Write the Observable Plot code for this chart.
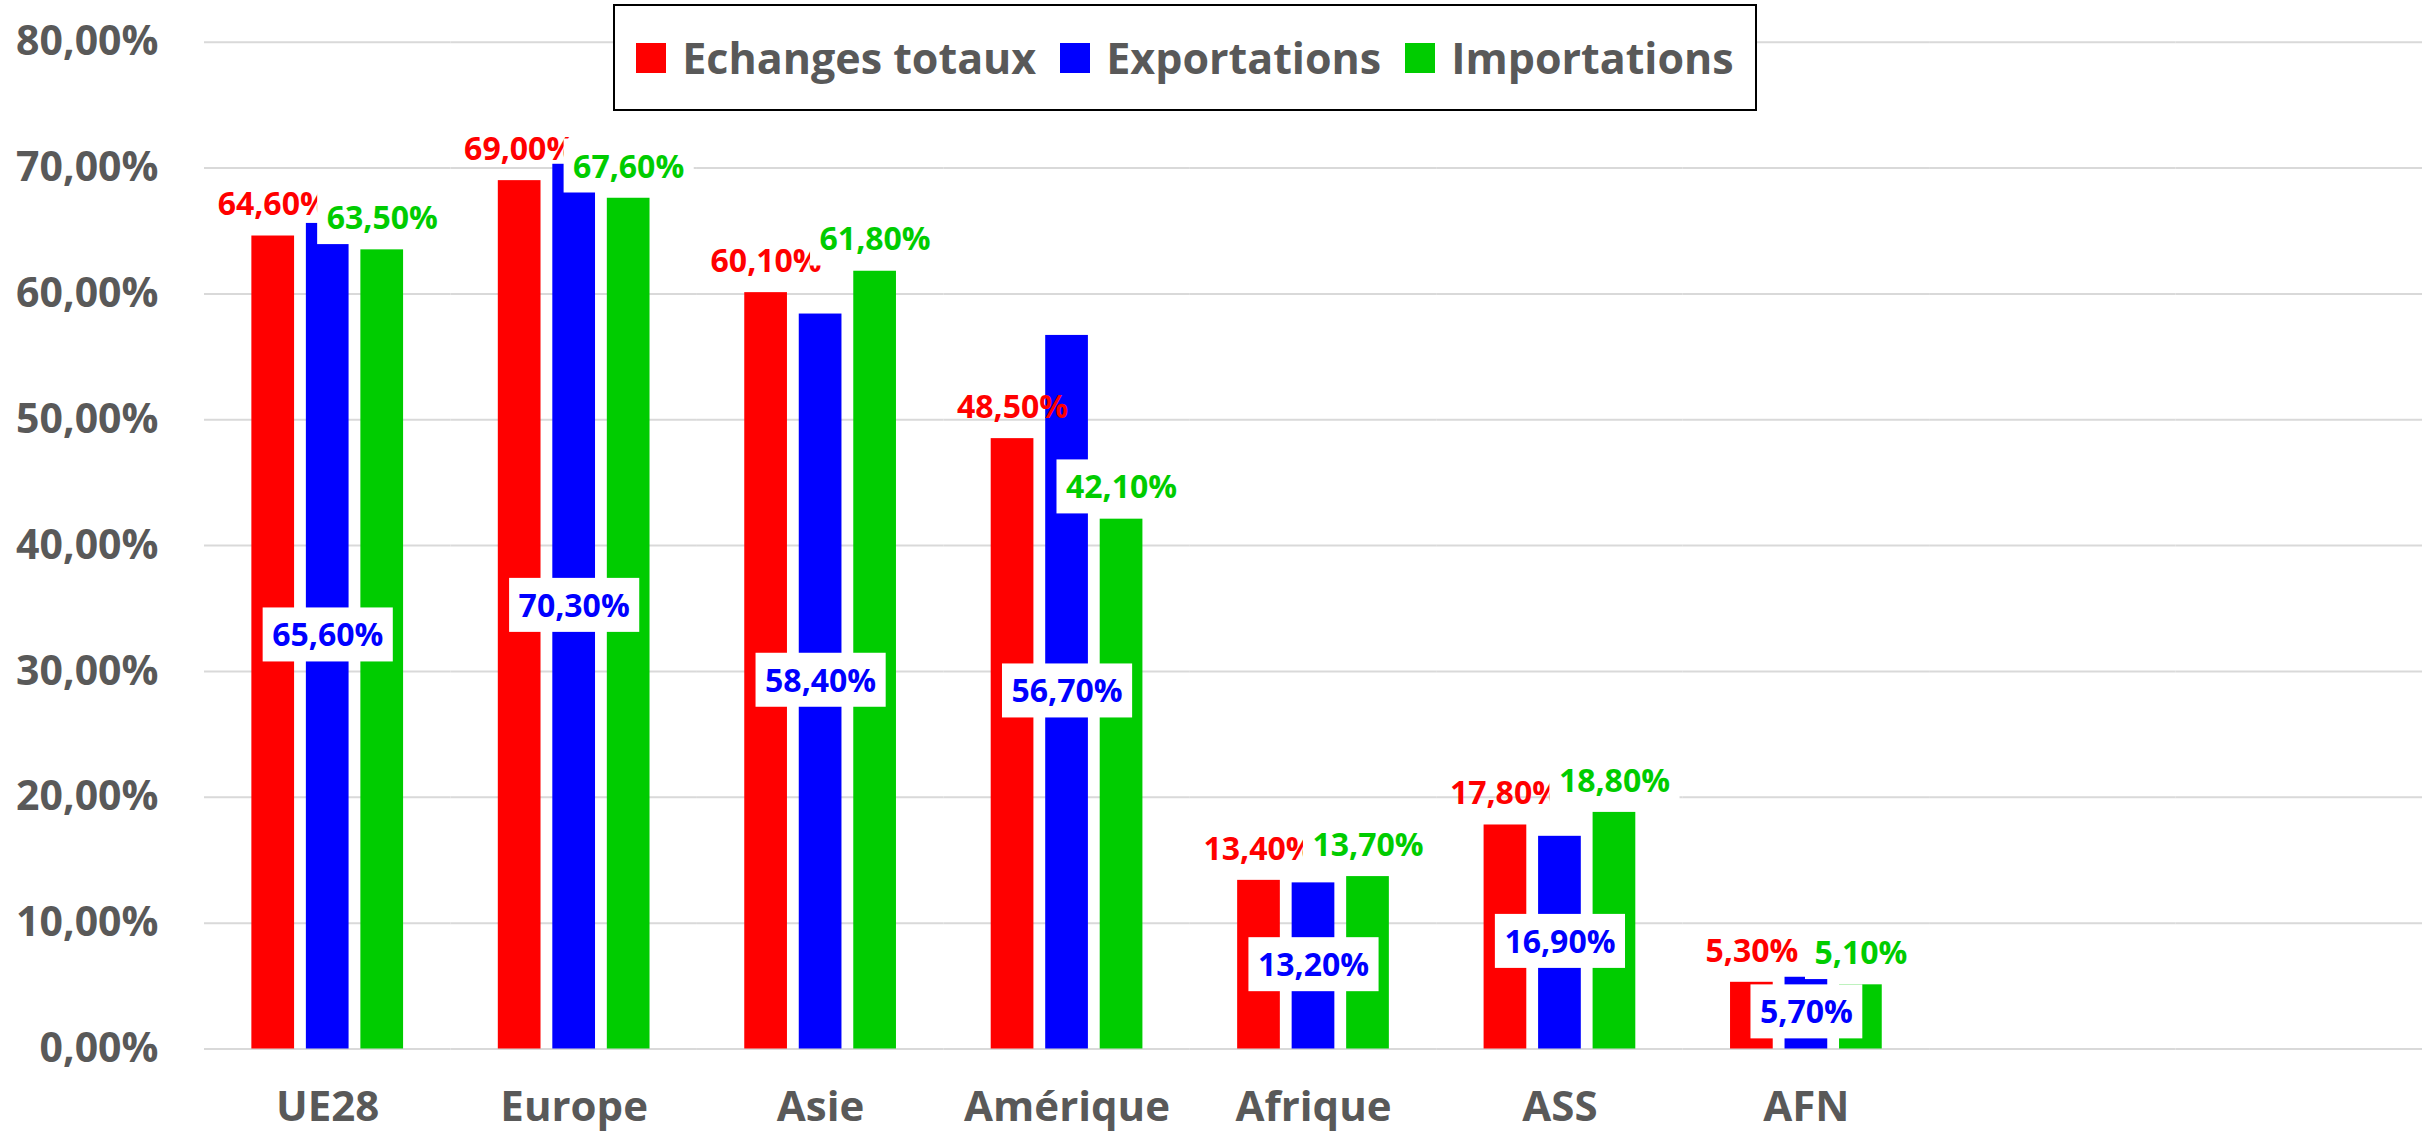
<!DOCTYPE html>
<html>
<head>
<meta charset="utf-8">
<script src="https://cdn.jsdelivr.net/npm/d3@7"></script>
<script src="https://cdn.jsdelivr.net/npm/@observablehq/plot@0.6"></script>
<style>
  html, body { margin: 0; padding: 0; background: #fff; }
  #wrap { position: relative; width: 2430px; height: 1134px; overflow: hidden; font-family: "Open Sans", sans-serif; }
  #chart svg { display: block; }
  #legend { position: absolute; left: 613px; top: 4px; width: 1144px; height: 107px; box-sizing: border-box;
            border: 2px solid #000; background: #fff; display: flex; align-items: center; justify-content: center; }
  .item { display: flex; align-items: center; margin: 0 12px; }
  .sw { width: 30px; height: 30px; margin-right: 16px; }
  .lt { font-size: 43px; font-weight: 700; color: #595959; line-height: 1; white-space: nowrap; }
</style>
</head>
<body>
<div id="wrap">
  <div id="chart"></div>
  <div id="legend"></div>
</div>
<script>
// ---- data ----
const categories = ["UE28", "Europe", "Asie", "Amérique", "Afrique", "ASS", "AFN"];
const emptySlots = ["vide 1", "vide 2"]; // two empty category slots of the source sheet
const seriesNames = ["Echanges totaux", "Exportations", "Importations"];
const seriesColors = ["#ff0000", "#0000ff", "#00cc00"];
const echangesTotaux = [64.6, 69.0, 60.1, 48.5, 13.4, 17.8, 5.3];
const exportations   = [65.6, 70.3, 58.4, 56.7, 13.2, 16.9, 5.7];
const importations   = [63.5, 67.6, 61.8, 42.1, 13.7, 18.8, 5.1];
const yTicks = [0, 10, 20, 30, 40, 50, 60, 70, 80];

// ---- table ----
const seriesValues = [echangesTotaux, exportations, importations];
const rows = [];
categories.forEach((c, i) => seriesNames.forEach((s, j) => rows.push({region: c, serie: s, value: seriesValues[j][i]})));
const emptyRows = [];
emptySlots.forEach(c => seriesNames.forEach(s => emptyRows.push({region: c, serie: s, value: null})));

const fmt = v => v.toFixed(2).replace(".", ",") + "%";
const bySerie = s => rows.filter(d => d.serie === s);

const chart = Plot.plot({
  width: 2430,
  height: 1134,
  marginTop: 41.7,
  marginBottom: 85.5,
  marginLeft: 204,
  marginRight: 8,
  style: {fontFamily: '"Open Sans", sans-serif', background: "#fff"},
  fx: {domain: [...categories, ...emptySlots], padding: 0, round: false, label: null},
  x: {domain: seriesNames, paddingInner: 0.2165, paddingOuter: 0.869, round: false, axis: null},
  y: {domain: [0, 80], label: null},
  color: {domain: seriesNames, range: seriesColors},
  marks: [
    Plot.gridY(yTicks, {stroke: "#d9d9d9", strokeWidth: 2, strokeOpacity: 1}),
    Plot.axisY(yTicks, {tickSize: 0, tickPadding: 46, tickFormat: fmt, fontSize: 41, fontWeight: 700, color: "#595959", label: null}),
    Plot.axisFx({anchor: "bottom", tickSize: 0, tickPadding: 42, tickFormat: d => categories.includes(d) ? d : "",
                 fontSize: 42, fontWeight: 700, color: "#595959", label: null}),
    Plot.barY([...rows, ...emptyRows], {fx: "region", x: "serie", y: "value", fill: "serie"}),
    Plot.text(bySerie(seriesNames[0]), {fx: "region", x: "serie", y: "value", text: d => fmt(d.value), dy: -31,
                 fill: seriesColors[0], fontSize: 32, fontWeight: 700, ariaLabel: () => "lbl-0"}),
    Plot.text(bySerie(seriesNames[1]), {fx: "region", x: "serie", y: d => d.value / 2, text: d => fmt(d.value), dy: 0,
                 fill: seriesColors[1], fontSize: 32, fontWeight: 700, ariaLabel: () => "lbl-1"}),
    Plot.text(bySerie(seriesNames[2]), {fx: "region", x: "serie", y: "value", text: d => fmt(d.value), dy: -31,
                 fill: seriesColors[2], fontSize: 32, fontWeight: 700, ariaLabel: () => "lbl-2"})
  ]
});
document.getElementById("chart").appendChild(chart);

// white boxes behind the data labels of Exportations and Importations (as in the source)
const NS = "http://www.w3.org/2000/svg";
["lbl-1", "lbl-2"].forEach(lbl => {
  const found = [];
  chart.querySelectorAll(`[aria-label="${lbl}"]`).forEach(el => {
    if (el.tagName.toLowerCase() === "text") found.push(el);
    else el.querySelectorAll("text").forEach(t => found.push(t));
  });
  found.forEach(t => {
    const b = t.getBBox();
    const padX = 9.5, h = 54, cy = b.y + b.height / 2 + 0.5;
    const r = document.createElementNS(NS, "rect");
    r.setAttribute("x", b.x - padX);
    r.setAttribute("y", cy - h / 2);
    r.setAttribute("width", b.width + 2 * padX);
    r.setAttribute("height", h);
    r.setAttribute("fill", "#fff");
    const tr = t.getAttribute("transform");
    if (tr) r.setAttribute("transform", tr);
    t.parentNode.insertBefore(r, t);
  });
});

// legend
const legend = document.getElementById("legend");
seriesNames.forEach((s, i) => {
  const it = document.createElement("div");
  it.className = "item";
  const sw = document.createElement("div");
  sw.className = "sw";
  sw.style.background = seriesColors[i];
  const lt = document.createElement("span");
  lt.className = "lt";
  lt.textContent = s;
  it.appendChild(sw);
  it.appendChild(lt);
  legend.appendChild(it);
});
</script>
</body>
</html>
